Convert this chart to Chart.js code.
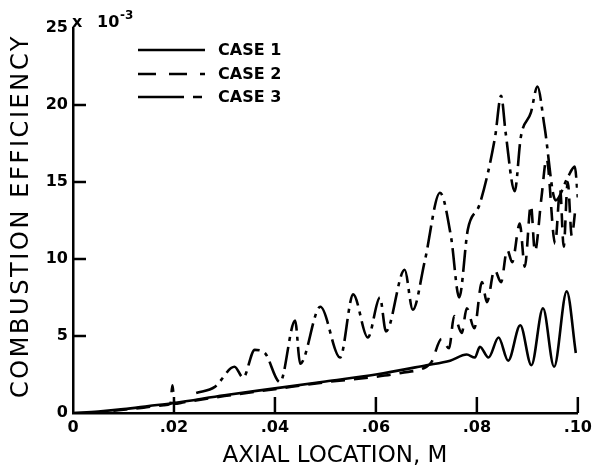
<!DOCTYPE html>
<html>
<head>
<meta charset="utf-8">
<script src="https://cdn.jsdelivr.net/npm/chart.js@4.4.1/dist/chart.umd.min.js"></script>
<style>
  html, body { margin: 0; padding: 0; background: #fff; }
  #wrap { width: 597px; height: 470px; }
</style>
</head>
<body>
<div id="wrap"><canvas id="efficiency-chart" width="597" height="470"></canvas></div>
<script>
// values are in units of 10^-3
const case1X = [0, .005, .01, .015, .02, .03, .04, .05, .06, .07, .0747, .078, .0796, .0806, .0823, .0843, .0862, .0886, .0908, .0931, .0953, .0978, .0996];
const case1Y = [0, .1, .25, .45, .65, 1.15, 1.6, 2.05, 2.5, 3.1, 3.4, 3.8, 3.6, 4.3, 3.6, 4.9, 3.4, 5.7, 3.1, 6.8, 3.0, 7.9, 3.9];

const case2X = [.008, .014, .018, .0193, .0197, .0201, .022, .03, .04, .05, .06, .065, .07, .071, .073, .0745, .0755, .077, .078, .0795, .081, .082, .0835, .0848, .086, .087, .0885, .0895, .0907, .0915, .0928, .0938, .0955, .0965, .0972, .098, .0988, .0995];
const case2Y = [.15, .35, .5, .6, 1.8, .6, .7, 1.1, 1.55, 2.0, 2.35, 2.6, 3.0, 3.3, 4.8, 4.2, 6.3, 5.2, 6.8, 5.5, 8.5, 7.2, 9.3, 8.5, 10.6, 9.8, 12.3, 9.5, 13.5, 10.5, 14.0, 16.5, 11.0, 14.5, 10.8, 15.0, 11.5, 13.2];

const case3X = [.0244, .0281, .032, .0337, .036, .038, .041, .044, .045, .049, .0529, .0555, .0584, .0608, .062, .0657, .0673, .0697, .0727, .0749, .0765, .0782, .0806, .0836, .0848, .0857, .0875, .0887, .0907, .092, .0934, .0956, .098, .0994, .1];
const case3Y = [1.3, 1.7, 3.0, 2.3, 4.1, 3.9, 2.0, 6.0, 3.2, 6.9, 3.6, 7.7, 4.9, 7.5, 5.3, 9.3, 6.7, 9.9, 14.3, 11.4, 7.5, 11.9, 13.6, 17.9, 20.6, 18.2, 14.4, 17.9, 19.5, 21.2, 18.6, 13.8, 15.3, 16.0, 14.0];

const caseLabels = ['CASE 1', 'CASE 2', 'CASE 3'];
const xTickValues = [0, .02, .04, .06, .08, .10];
const xTickLabels = ['0', '.02', '.04', '.06', '.08', '.10'];
const yTickValues = [0, 5, 10, 15, 20, 25];

function toPoints(xs, ys) {
    return xs.map((x, i) => ({ x: x, y: ys[i] }));
}

const ink = '#000';

// inward tick marks, axis titles, exponent note and the legend
const decorations = {
    id: 'decorations',
    afterDraw(chart) {
        const ctx = chart.ctx;
        const xs = chart.scales.x;
        const ys = chart.scales.y;
        const area = chart.chartArea;
        ctx.save();
        ctx.strokeStyle = ink;
        ctx.fillStyle = ink;
        ctx.lineWidth = 2.5;

        xTickValues.slice(1).forEach(v => {
            const px = xs.getPixelForValue(v);
            ctx.beginPath();
            ctx.moveTo(px, area.bottom);
            ctx.lineTo(px, area.bottom - 16);
            ctx.stroke();
        });
        yTickValues.slice(1, -1).forEach(v => {
            const py = ys.getPixelForValue(v);
            ctx.beginPath();
            ctx.moveTo(area.left, py);
            ctx.lineTo(area.left + 13, py);
            ctx.stroke();
        });

        // x 10^-3 note at the top of the y axis
        ctx.font = 'bold 16px "DejaVu Sans"';
        ctx.textBaseline = 'alphabetic';
        ctx.textAlign = 'left';
        ctx.fillText('x', area.left - 1, area.top - 1);
        ctx.fillText('10', area.left + 24, area.top - 1);
        ctx.font = 'bold 12px "DejaVu Sans"';
        ctx.fillText('-3', area.left + 47, area.top - 9);

        // axis titles
        ctx.font = '23px "DejaVu Sans"';
        ctx.textAlign = 'center';
        ctx.textBaseline = 'middle';
        ctx.fillText('AXIAL LOCATION, M', 335, 456);

        ctx.save();
        ctx.translate(22, 216);
        ctx.rotate(-Math.PI / 2);
        ctx.font = '24px "DejaVu Sans"';
        ctx.letterSpacing = '2.6px';
        ctx.fillText('COMBUSTION EFFICIENCY', 0, 0);
        ctx.restore();

        // legend
        const rows = [50, 74, 97];
        chart.data.datasets.forEach((ds, i) => {
            ctx.save();
            ctx.lineWidth = ds.borderWidth;
            ctx.setLineDash(ds.legendDash);
            ctx.beginPath();
            ctx.moveTo(138, rows[i]);
            ctx.lineTo(205, rows[i]);
            ctx.stroke();
            ctx.restore();
            ctx.font = 'bold 16px "DejaVu Sans"';
            ctx.textAlign = 'left';
            ctx.textBaseline = 'middle';
            ctx.fillText(ds.label, 218, rows[i] + 1);
        });
        ctx.restore();
    }
};

const ctx = document.getElementById('efficiency-chart').getContext('2d');
const efficiencyChart = new Chart(ctx, {
    type: 'line',
    data: {
        datasets: [{
            label: caseLabels[0],
            data: toPoints(case1X, case1Y),
            borderColor: ink,
            borderWidth: 2.6,
            borderDash: [],
            legendDash: [],
            cubicInterpolationMode: 'monotone',
            pointRadius: 0,
            fill: false
        }, {
            label: caseLabels[1],
            data: toPoints(case2X, case2Y),
            borderColor: ink,
            borderWidth: 2.6,
            borderDash: [14, 9],
            legendDash: [18, 13],
            cubicInterpolationMode: 'monotone',
            pointRadius: 0,
            fill: false
        }, {
            label: caseLabels[2],
            data: toPoints(case3X, case3Y),
            borderColor: ink,
            borderWidth: 2.6,
            borderDash: [22, 6, 4, 6],
            legendDash: [46, 9, 9, 9],
            cubicInterpolationMode: 'monotone',
            pointRadius: 0,
            fill: false
        }]
    },
    options: {
        responsive: false,
        animation: false,
        layout: { padding: { top: 28, right: 12, left: 0, bottom: 0 } },
        plugins: {
            legend: { display: false },
            tooltip: { enabled: false }
        },
        scales: {
            x: {
                type: 'linear',
                min: 0,
                max: 0.1,
                afterBuildTicks: scale => {
                    scale.ticks = xTickValues.map(v => ({ value: v }));
                },
                afterFit: scale => { scale.height = 57; },
                grid: { display: false, drawTicks: false },
                border: { display: true, color: ink, width: 2.5 },
                ticks: {
                    color: ink,
                    padding: 5,
                    maxRotation: 0,
                    font: { family: 'DejaVu Sans', size: 16, weight: 'bold' },
                    callback: (v) => xTickLabels[xTickValues.findIndex(t => Math.abs(t - v) < 1e-9)]
                }
            },
            y: {
                min: 0,
                max: 25,
                afterBuildTicks: scale => {
                    scale.ticks = yTickValues.map(v => ({ value: v }));
                },
                afterFit: scale => { scale.width = 73; },
                grid: { display: false, drawTicks: false },
                border: { display: true, color: ink, width: 2.5 },
                ticks: {
                    color: ink,
                    padding: 5,
                    font: { family: 'DejaVu Sans', size: 16, weight: 'bold' },
                    callback: (v) => String(v)
                }
            }
        }
    },
    plugins: [decorations]
});
</script>
</body>
</html>
